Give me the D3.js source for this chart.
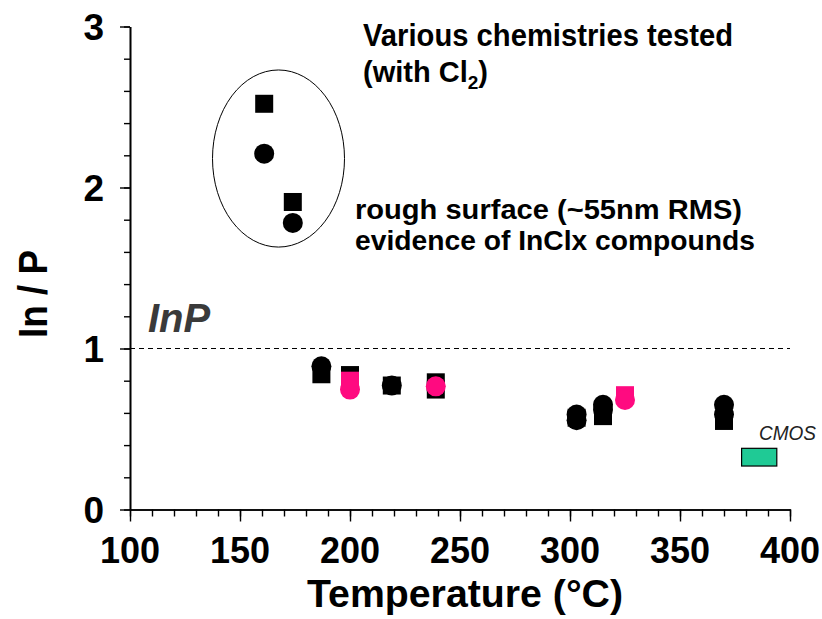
<!DOCTYPE html>
<html>
<head>
<meta charset="utf-8">
<script src="https://cdn.jsdelivr.net/npm/d3@7"></script>
<style>
  body { margin: 0; background: #fff; }
  svg text { font-family: "Liberation Sans", Arial, sans-serif; font-weight: bold; }
</style>
</head>
<body>
<div id="chart"></div>
<script>
// values
const xTicks = [100, 150, 200, 250, 300, 350, 400];
const yTicks = [0, 1, 2, 3];

const blackSqTemp  = [161, 174, 187, 200, 219, 239, 239, 303, 315, 370];
const blackSqRatio = [2.52, 1.91, 0.84, 0.835, 0.77, 0.79, 0.745, 0.57, 0.58, 0.55];

const blackCircTemp  = [161, 174, 187, 219, 303, 303, 315, 315, 370, 370];
const blackCircRatio = [2.21, 1.78, 0.89, 0.77, 0.59, 0.555, 0.65, 0.62, 0.65, 0.59];

const pinkSqTemp  = [200, 325];
const pinkSqRatio = [0.80, 0.71];

const pinkCircTemp  = [200, 239, 325];
const pinkCircRatio = [0.745, 0.765, 0.68];

const cmosTemp  = [378, 394];
const cmosRatio = [0.27, 0.38];

const W = 822, H = 619;

const svg = d3.select("#chart")
  .append("svg")
  .attr("width", W)
  .attr("height", H);

svg.append("rect").attr("width", W).attr("height", H).attr("fill", "#fff");

const x = d3.scaleLinear().domain([100, 400]).range([130, 790]);
const y = d3.scaleLinear().domain([0, 3]).range([509.5, 26.5]);

// dashed InP reference line
svg.append("line")
  .attr("x1", x(100)).attr("x2", x(400))
  .attr("y1", y(1)).attr("y2", y(1))
  .attr("stroke", "#000")
  .attr("stroke-width", 1.2)
  .attr("stroke-dasharray", "5,4");

// x axis: minor every 10, major every 50
svg.append("g")
  .attr("transform", `translate(0,${y(0)})`)
  .call(d3.axisBottom(x).tickValues(d3.range(100, 401, 10)).tickSize(7).tickSizeOuter(0).tickFormat(""));
svg.append("g")
  .attr("transform", `translate(0,${y(0)})`)
  .call(d3.axisBottom(x).tickValues(xTicks).tickSize(12).tickSizeOuter(0).tickFormat(""));

// y axis: minor every 0.2, major every 1
svg.append("g")
  .attr("transform", `translate(${x(100)},0)`)
  .call(d3.axisLeft(y).tickValues(d3.range(0, 3.01, 0.2)).tickSize(6).tickSizeOuter(0).tickFormat(""));
svg.append("g")
  .attr("transform", `translate(${x(100)},0)`)
  .call(d3.axisLeft(y).tickValues(yTicks).tickSize(10).tickSizeOuter(0).tickFormat(""));

svg.selectAll(".domain").attr("stroke", "#000").attr("stroke-width", 1.6);
svg.selectAll(".tick line").attr("stroke", "#000").attr("stroke-width", 1.4);

// tick labels
svg.append("g")
  .selectAll("text")
  .data(xTicks)
  .join("text")
  .attr("x", d => x(d))
  .attr("y", 563)
  .attr("text-anchor", "middle")
  .style("font-size", "36px")
  .text(d => d);

svg.append("g")
  .selectAll("text")
  .data(yTicks)
  .join("text")
  .attr("x", 104)
  .attr("y", d => y(d) + 13)
  .attr("text-anchor", "end")
  .style("font-size", "37px")
  .text(d => d);

// axis titles
svg.append("text")
  .attr("x", 465)
  .attr("y", 607)
  .attr("text-anchor", "middle")
  .style("font-size", "38px")
  .attr("textLength", 316)
  .attr("lengthAdjust", "spacingAndGlyphs")
  .text("Temperature (°C)");

svg.append("text")
  .attr("transform", "translate(47,294) rotate(-90)")
  .attr("text-anchor", "middle")
  .style("font-size", "40px")
  .attr("textLength", 88)
  .attr("lengthAdjust", "spacingAndGlyphs")
  .text("In / P");

// ellipse around the rough-surface points
svg.append("ellipse")
  .attr("cx", x(167.5))
  .attr("cy", y(2.18))
  .attr("rx", x(167.5 + 30) - x(167.5))
  .attr("ry", y(2.18 - 0.55) - y(2.18))
  .attr("fill", "none")
  .attr("stroke", "#000")
  .attr("stroke-width", 1);

// CMOS box
svg.append("rect")
  .attr("x", x(cmosTemp[0]))
  .attr("y", y(cmosRatio[1]))
  .attr("width", x(cmosTemp[1]) - x(cmosTemp[0]))
  .attr("height", y(cmosRatio[0]) - y(cmosRatio[1]))
  .attr("fill", "#1fca95")
  .attr("stroke", "#000")
  .attr("stroke-width", 1.2);

// markers
function squares(temps, vals, color) {
  svg.append("g")
    .selectAll("rect")
    .data(d3.zip(temps, vals))
    .join("rect")
    .attr("x", d => x(d[0]) - 9)
    .attr("y", d => y(d[1]) - 9)
    .attr("width", 18)
    .attr("height", 18)
    .attr("fill", color);
}
function circles(temps, vals, color) {
  svg.append("g")
    .selectAll("circle")
    .data(d3.zip(temps, vals))
    .join("circle")
    .attr("cx", d => x(d[0]))
    .attr("cy", d => y(d[1]))
    .attr("r", 10)
    .attr("fill", color);
}
squares(blackSqTemp, blackSqRatio, "#000");
circles(blackCircTemp, blackCircRatio, "#000");
squares(pinkSqTemp, pinkSqRatio, "#ff0a80");
circles(pinkCircTemp, pinkCircRatio, "#ff0a80");

// annotations
svg.append("text")
  .attr("x", 363).attr("y", 46)
  .style("font-size", "31px")
  .attr("textLength", 370)
  .attr("lengthAdjust", "spacingAndGlyphs")
  .text("Various chemistries tested");

const cl = svg.append("text")
  .attr("x", 363).attr("y", 82)
  .style("font-size", "29px");
cl.append("tspan").text("(with Cl");
cl.append("tspan").attr("dy", 7).style("font-size", "19px").text("2");
cl.append("tspan").attr("dy", -7).text(")");

svg.append("text")
  .attr("x", 355).attr("y", 219)
  .style("font-size", "28px")
  .attr("textLength", 387)
  .attr("lengthAdjust", "spacingAndGlyphs")
  .text("rough surface (~55nm RMS)");

svg.append("text")
  .attr("x", 355).attr("y", 250)
  .style("font-size", "28px")
  .attr("textLength", 400)
  .attr("lengthAdjust", "spacingAndGlyphs")
  .text("evidence of InClx compounds");

svg.append("text")
  .attr("x", 148).attr("y", 332)
  .style("font-size", "40px")
  .style("font-style", "italic")
  .attr("fill", "#3a3a3a")
  .text("InP");

svg.append("text")
  .attr("x", 759).attr("y", 440)
  .style("font-size", "20px")
  .style("font-style", "italic")
  .style("font-weight", "normal")
  .attr("textLength", 57)
  .attr("lengthAdjust", "spacingAndGlyphs")
  .attr("fill", "#222")
  .text("CMOS");
</script>
</body>
</html>
